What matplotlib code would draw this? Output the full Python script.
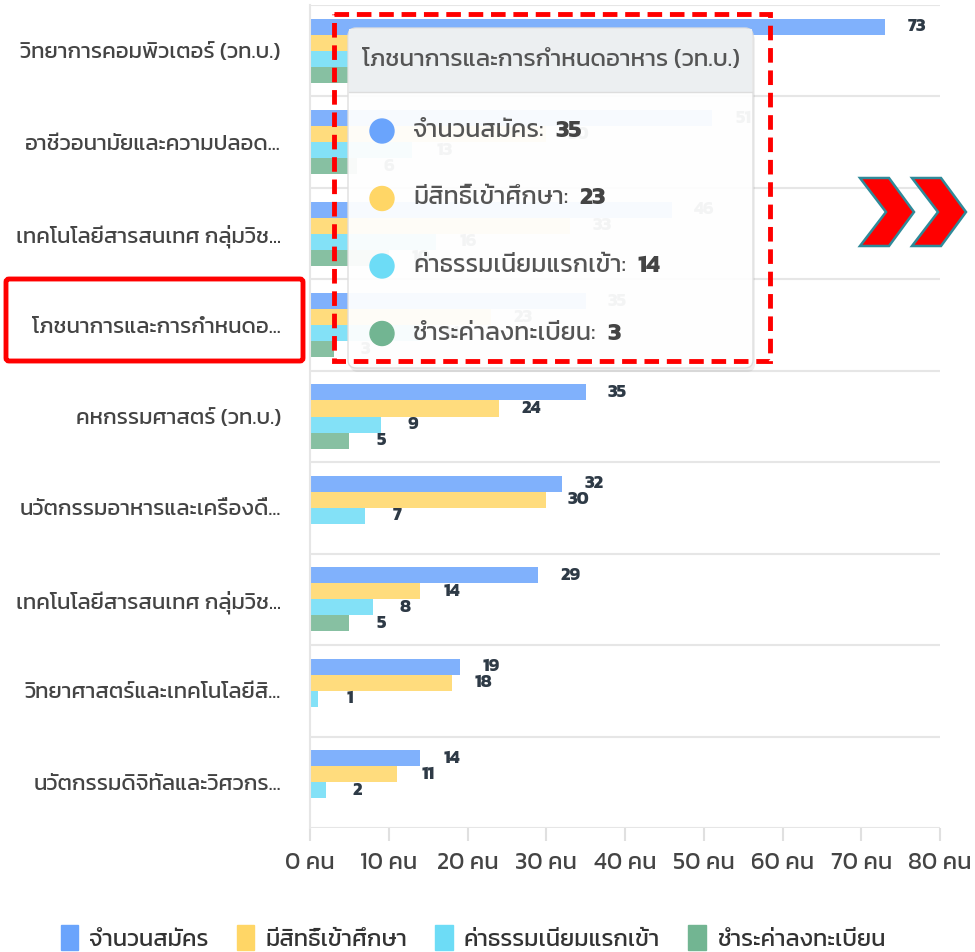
import matplotlib
matplotlib.use("Agg")
import matplotlib.pyplot as plt
from matplotlib import font_manager
from matplotlib.patches import FancyBboxPatch, Rectangle, Polygon, Circle

# data
categories = [
    "วิทยาการคอมพิวเตอร์ (วท.บ.)",
    "อาชีวอนามัยและความปลอด...",
    "เทคโนโลยีสารสนเทศ กลุ่มวิช...",
    "โภชนาการและการกำหนดอ...",
    "คหกรรมศาสตร์ (วท.บ.)",
    "นวัตกรรมอาหารและเครื่องดื่...",
    "เทคโนโลยีสารสนเทศ กลุ่มวิช...",
    "วิทยาศาสตร์และเทคโนโลยีสิ...",
    "นวัตกรรมดิจิทัลและวิศวกร...",
]
series_names = ["จำนวนสมัคร", "มีสิทธิ์เข้าศึกษา", "ค่าธรรมเนียมแรกเข้า", "ชำระค่าลงทะเบียน"]
applicants = [73, 51, 46, 35, 35, 32, 29, 19, 14]
eligible = [40, 30, 33, 23, 24, 30, 14, 18, 11]
entry_fee = [17, 13, 16, 14, 9, 7, 8, 1, 2]
registered = [9, 6, 10, 3, 5, 0, 5, 0, 0]
colors = ["#6aa4fc", "#ffd666", "#6ddcf6", "#72b592"]
x_ticks = [0, 10, 20, 30, 40, 50, 60, 70, 80]
tooltip_title = "โภชนาการและการกำหนดอาหาร (วท.บ.)"
hover_idx = 3

# Kanit looks closest to the web font; fall back to any Thai font
names = {f.name for f in font_manager.fontManager.ttflist}
pick = [n for n in ["Kanit", "Prompt", "Anuphan", "IBM Plex Sans Thai"] if n in names]
plt.rcParams["font.family"] = pick[:1] + ["DejaVu Sans"]

W, H = 975, 952
fig = plt.figure(figsize=(W / 100, H / 100), dpi=100)
ax = fig.add_axes([310 / W, 1 - 828 / H, 630 / W, 823 / H])

series = [applicants, eligible, entry_fee, registered]
bh = 0.175
for k, vals in enumerate(series):
    off = (k - 1.5) * bh
    for i, v in enumerate(vals):
        if v <= 0:
            continue
        ax.barh(i + off, v, height=bh, color=colors[k], alpha=0.85, zorder=2)
        ax.annotate(str(v), (v, i + off), xytext=(23, 0), textcoords="offset points",
                    ha="center", va="center", fontsize=13, fontweight="bold",
                    color="#2e3a46", zorder=3)

for b in range(len(categories) + 1):
    ax.axhline(b - 0.5, color="#e6e6e6", lw=1.5, zorder=1)

ax.set_xlim(0, 80)
ax.set_ylim(len(categories) - 0.5, -0.5)
ax.set_xticks(x_ticks)
ax.set_xticklabels([f"{t} คน" for t in x_ticks], fontsize=17, color="#444444")
ax.set_yticks(range(len(categories)))
ax.set_yticklabels(categories, fontsize=16, color="#444444")
ax.tick_params(axis="x", length=9, color="#e0e0e0", width=1.5, pad=8)
ax.tick_params(axis="y", length=0, pad=21)
for s in ["top", "right", "bottom"]:
    ax.spines[s].set_visible(False)
ax.spines["left"].set_color("#e6e6e6")
ax.spines["left"].set_linewidth(1.5)

# legend
handles = [Rectangle((0, 0), 1, 1, color=c) for c in colors]
fig.legend(handles, series_names, loc="center", bbox_to_anchor=(0.485, 1 - 938 / H),
           ncol=4, frameon=False, fontsize=17, handlelength=0.75, handleheight=1.25,
           columnspacing=1.2, handletextpad=0.45, labelcolor="#333333")

# overlay in pixel coordinates
ov = fig.add_axes([0, 0, 1, 1], zorder=10)
ov.set_xlim(0, W)
ov.set_ylim(H, 0)
ov.axis("off")

# tooltip
ov.add_patch(FancyBboxPatch((350, 32), 405, 340, boxstyle="round,pad=0,rounding_size=8",
                            fc="#000000", ec="none", alpha=0.06))
ov.add_patch(FancyBboxPatch((348, 28), 405, 340, boxstyle="round,pad=0,rounding_size=8",
                            fc="white", ec="#dddddd", lw=1, alpha=0.95))
ov.add_patch(Rectangle((349, 29), 403, 63, fc="#eceff1", ec="none"))
ov.plot([349, 752], [92, 92], color="#dddddd", lw=1)
ov.text(362, 60, tooltip_title, fontsize=17.5, color="#555555", va="center")
for k, name in enumerate(series_names):
    y = 131 + k * 67.5
    ov.add_patch(Circle((382, y), 12, color=colors[k]))
    t = ov.text(413, y, name + ":", fontsize=18, color="#555555", va="center")
    ov.annotate(str(series[k][hover_idx]), xy=(1, 0.5), xycoords=t,
                xytext=(8, 0), textcoords="offset points", va="center",
                fontsize=18, fontweight="bold", color="#444444")

# red highlight boxes
ov.add_patch(Rectangle((334, 14), 436, 347, fill=False, ec="#ff0000", lw=3.5,
                       linestyle=(0, (3, 1.6))))
ov.add_patch(FancyBboxPatch((6, 279), 297, 82, boxstyle="round,pad=0,rounding_size=3",
                            fill=False, ec="#ff0000", lw=3.5))

# chevrons
for dx in (0, 52):
    pts = [(860 + dx, 178), (889 + dx, 178), (914 + dx, 212), (889 + dx, 246),
           (860 + dx, 246), (886 + dx, 212)]
    ov.add_patch(Polygon(pts, closed=True, fc="#ff0000", ec="#2f8a99", lw=1.8))

fig.savefig("out.png", dpi=100)
